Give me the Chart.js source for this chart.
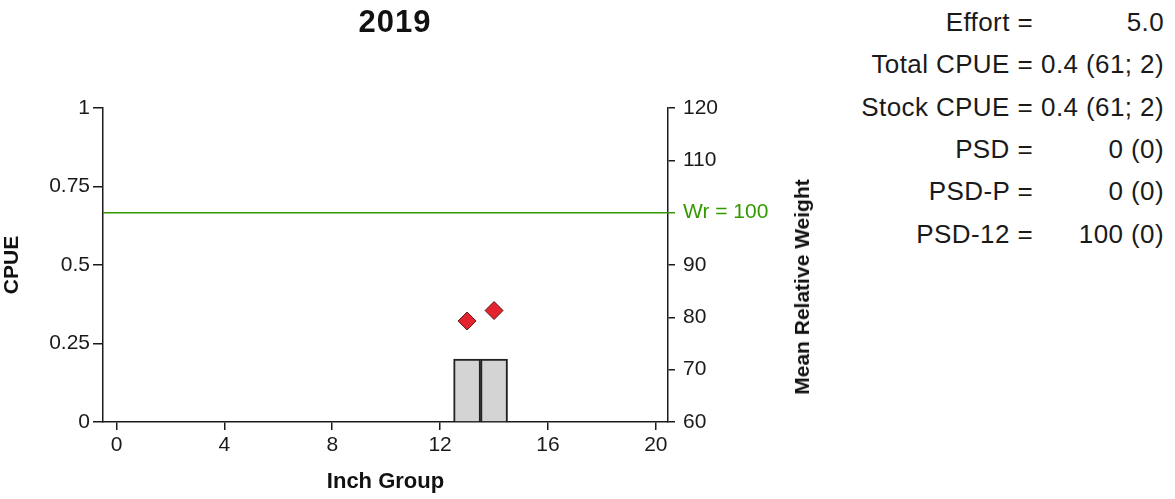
<!DOCTYPE html>
<html>
<head>
<meta charset="utf-8">
<script src="https://cdn.jsdelivr.net/npm/chart.js@4.4.1/dist/chart.umd.min.js"></script>
<style>
  body { margin: 0; background: #fff; font-family: "Liberation Sans", Arial, sans-serif; color: #1a1a1a; }
  #wrap { position: relative; width: 1175px; height: 499px; }
  #chartBox { position: absolute; left: 0; top: 0; width: 830px; height: 499px; }
  #title { position: absolute; left: 295px; width: 200px; top: 4px; text-align: center;
           font-weight: bold; font-size: 31px; letter-spacing: 1px; color: #111; }
  #y2title { position: absolute; left: 802px; top: 287px; transform: translate(-50%, -50%) rotate(-90deg);
             font-weight: bold; font-size: 21px; white-space: nowrap; color: #111; }
  #stats { position: absolute; top: 0; left: 840px; }
  .row { position: absolute; height: 42px; line-height: 42px; font-size: 26px; letter-spacing: 0.4px; white-space: nowrap; }
  .lab { width: 193px; text-align: right; left: 0; }
  .val { width: 124px; text-align: right; left: 200px; }
</style>
</head>
<body>
<div id="wrap">
  <div id="chartBox"><canvas id="lenChart"></canvas></div>
  <div id="title">2019</div>
  <div id="y2title">Mean Relative Weight</div>
  <div id="stats"></div>
</div>
<script>
// inch groups caught and their catch rates / mean Wr
const inchGroups = [13, 14];
const cpueValues = [0.2, 0.2];
const meanWr = [79.3, 81.3];
const wrTarget = 100;

const statLabels = ["Effort =", "Total CPUE =", "Stock CPUE =", "PSD =", "PSD-P =", "PSD-12 ="];
const statValues = ["5.0", "0.4 (61; 2)", "0.4 (61; 2)", "0 (0)", "0 (0)", "100 (0)"];

const xMin = -0.5, xMax = 20.45;
const green = "#339900";
const ink = "#1a1a1a";
const fontFam = "'Liberation Sans', Arial, sans-serif";

// stats panel on the right
const stats = document.getElementById("stats");
statLabels.forEach((lab, i) => {
  const top = 1 + i * 42.3;
  stats.innerHTML += `<div class="row lab" style="top:${top}px">${lab}</div>` +
                     `<div class="row val" style="top:${top}px">${statValues[i]}</div>`;
});

const tickFont = { family: fontFam, size: 21 };
const titleFont = { family: fontFam, size: 21, weight: "bold" };

new Chart(document.getElementById("lenChart"), {
  data: {
    datasets: [
      {
        type: "scatter",
        data: inchGroups.map((x, i) => ({ x: x, y: meanWr[i] })),
        yAxisID: "y1",
        pointStyle: "rectRot",
        pointRadius: 9,
        pointHoverRadius: 9,
        backgroundColor: "#e3242f",
        borderColor: "#5a1a1a",
        borderWidth: 1,
        order: 0
      },
      {
        type: "line",
        data: [{ x: xMin, y: wrTarget }, { x: xMax, y: wrTarget }],
        yAxisID: "y1",
        borderColor: green,
        borderWidth: 1.5,
        pointRadius: 0,
        order: 1
      },
      {
        type: "bar",
        data: inchGroups.map((x, i) => ({ x: x, y: cpueValues[i] })),
        yAxisID: "y",
        backgroundColor: "#d4d4d4",
        borderColor: "#222",
        borderWidth: 2,
        barPercentage: 1,
        categoryPercentage: 1,
        order: 2
      }
    ]
  },
  options: {
    responsive: true,
    maintainAspectRatio: false,
    animation: false,
    layout: { padding: { top: 108, left: 0, right: 0, bottom: 0 } },
    plugins: { legend: { display: false }, tooltip: { enabled: false } },
    scales: {
      x: {
        type: "linear",
        min: xMin,
        max: xMax,
        offset: false,
        afterFit: s => { s.height = 77; },
        ticks: { stepSize: 4, includeBounds: false, color: ink, font: tickFont, padding: 3 },
        grid: { offset: false, drawOnChartArea: false, tickLength: 8, color: ink, lineWidth: 1.5 },
        border: { color: ink, width: 1.5 },
        title: { display: true, text: "Inch Group", font: { ...titleFont, size: 22 }, color: "#111", padding: { top: 0, bottom: 4 } }
      },
      y: {
        position: "left",
        min: 0,
        max: 1,
        afterFit: s => { s.width = 103; },
        ticks: { stepSize: 0.25, color: ink, font: tickFont, padding: 3, callback: v => String(v) },
        grid: { drawOnChartArea: false, tickLength: 10, color: ink, lineWidth: 1.5 },
        border: { color: ink, width: 1.5 },
        title: { display: true, text: "CPUE", font: titleFont, color: "#111", padding: { top: 0, bottom: 8 } }
      },
      y1: {
        position: "right",
        min: 60,
        max: 120,
        afterFit: s => { s.width = 162; },
        ticks: {
          stepSize: 10,
          font: tickFont,
          padding: 8,
          color: c => c.tick.value === wrTarget ? green : ink,
          callback: v => v === wrTarget ? "Wr = " + wrTarget : v
        },
        grid: {
          drawOnChartArea: false,
          tickLength: 7,
          lineWidth: 1.5,
          color: c => c.tick && c.tick.value === wrTarget ? green : ink
        },
        border: { color: ink, width: 1.5 }
      }
    }
  }
});
</script>
</body>
</html>
